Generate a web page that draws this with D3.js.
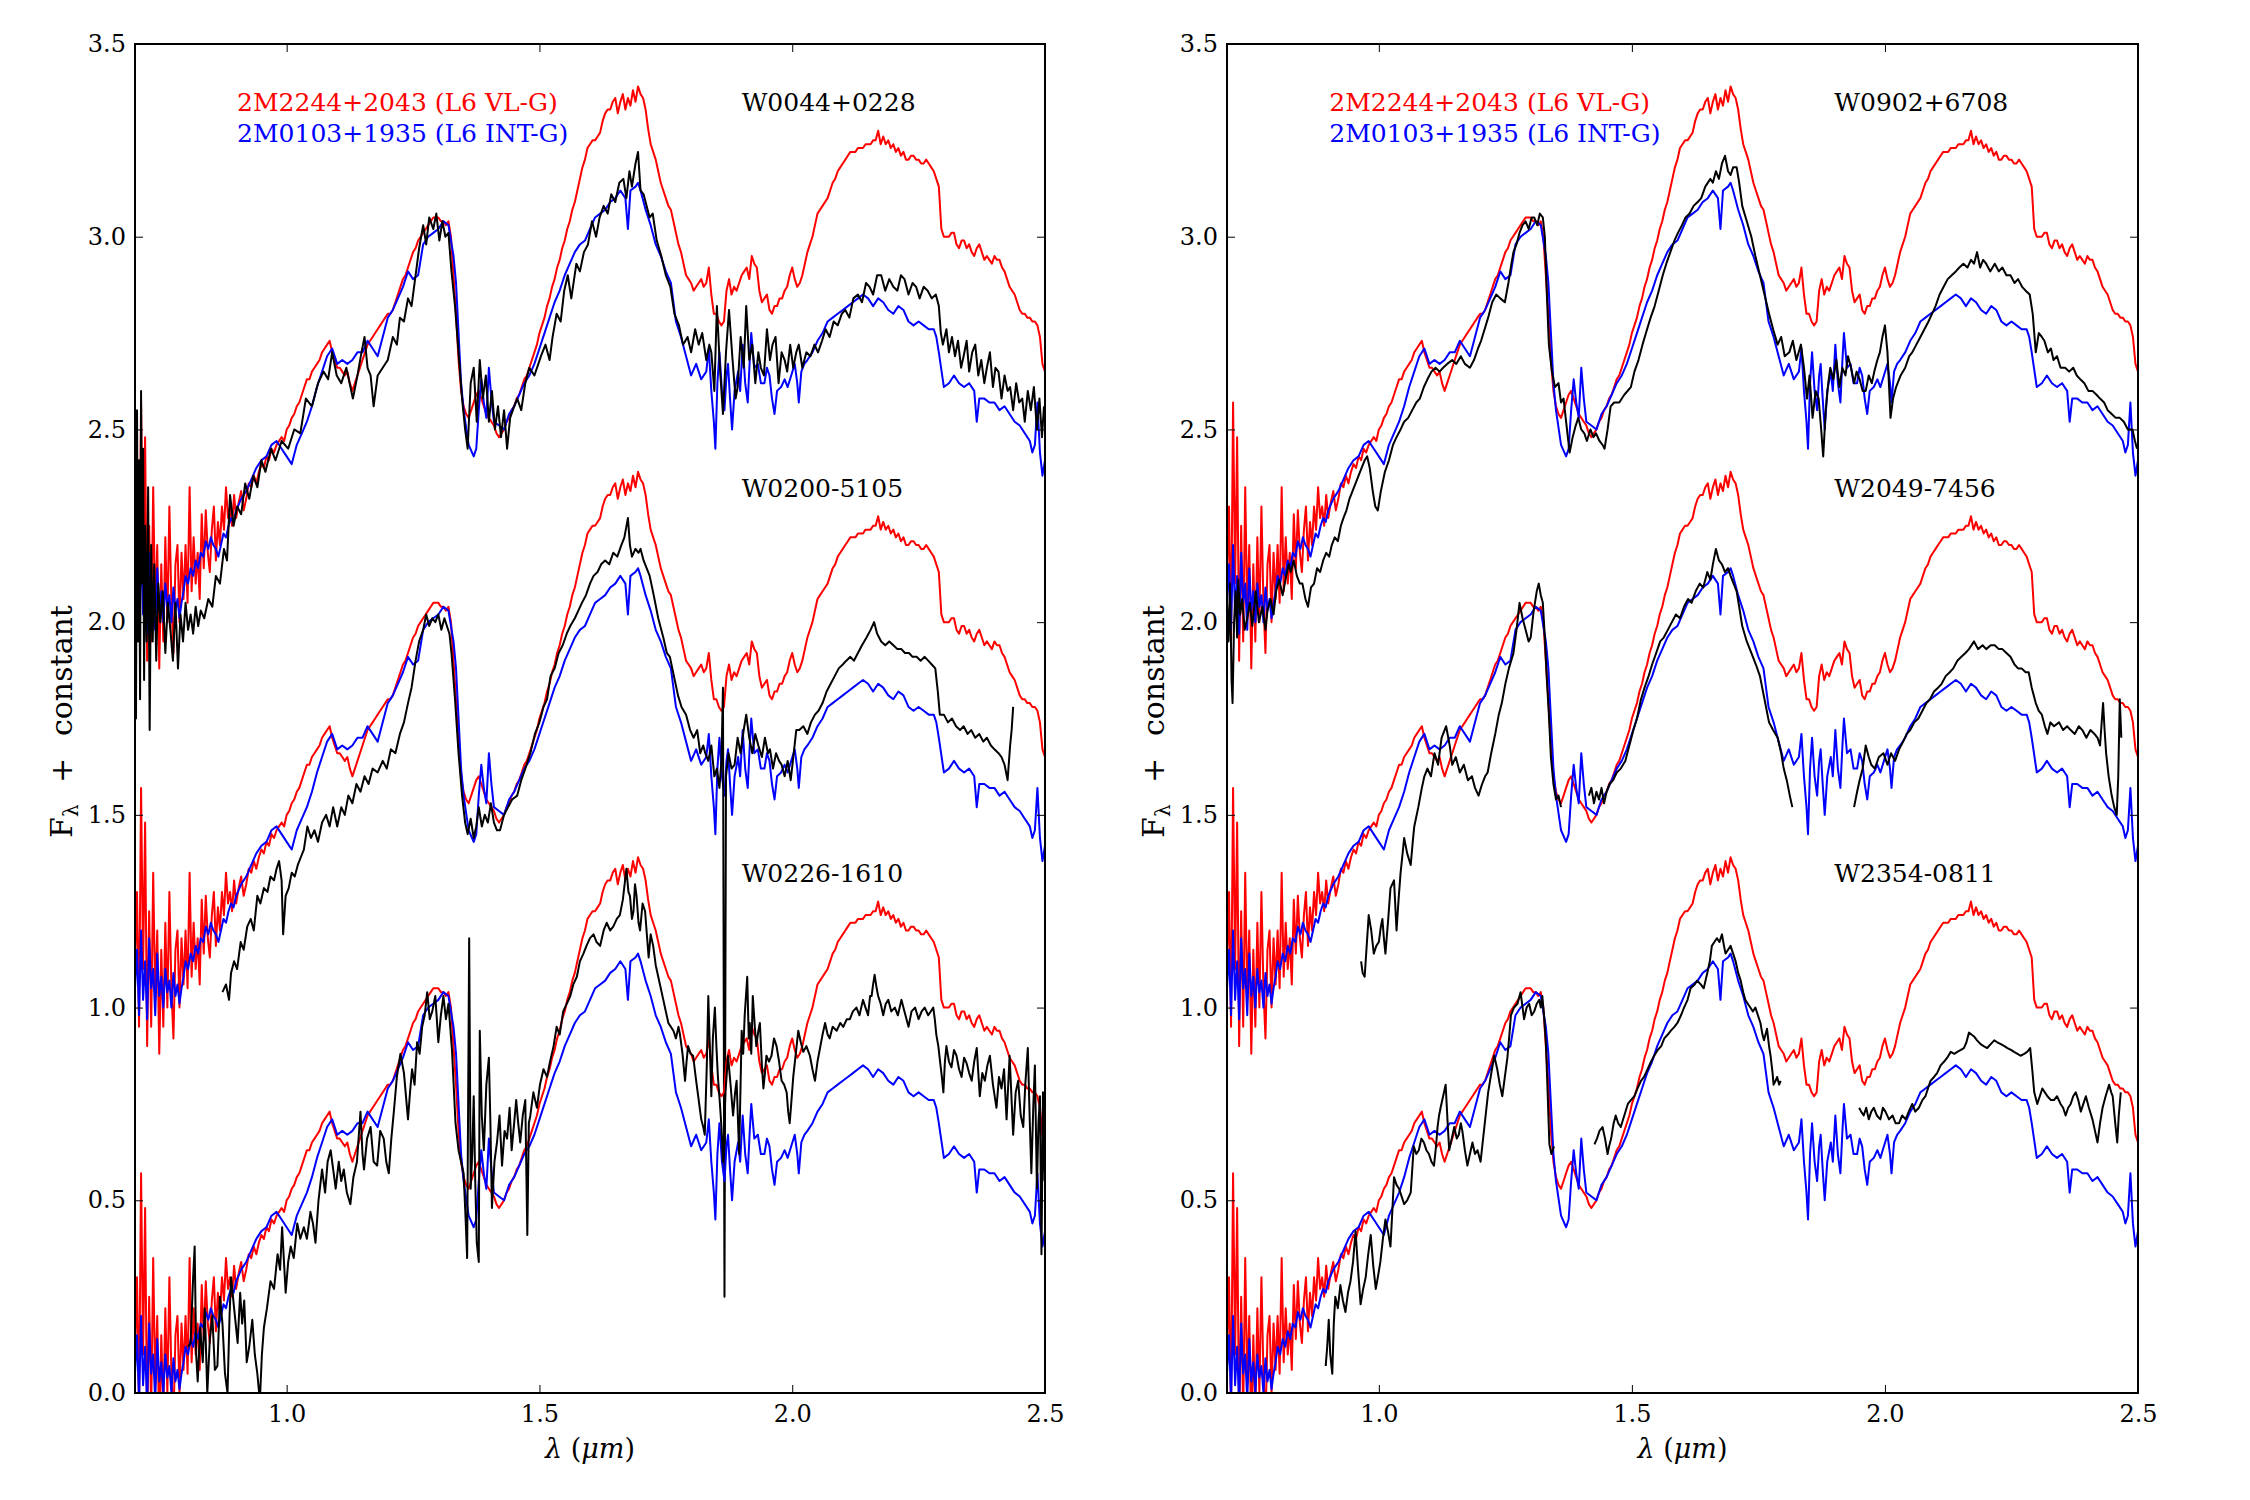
<!DOCTYPE html>
<html><head><meta charset="utf-8">
<script src="https://cdn.jsdelivr.net/npm/d3@7"></script>
<style>body{margin:0;background:#fff}</style>
</head><body><svg id="c" width="2250" height="1500"></svg>
<script>
// ---------------- DATA ----------------
const xDomain = [0.7, 2.5];
const yDomain = [0, 3.5];
const xTicks = [1.0, 1.5, 2.0, 2.5];
const yTicks = [0.0, 0.5, 1.0, 1.5, 2.0, 2.5, 3.0, 3.5];
const offsets = [2, 1, 0];
const vlgLabel = "2M2244+2043 (L6 VL-G)";
const intgLabel = "2M0103+1935 (L6 INT-G)";
const panelNames = [["W0044+0228","W0200-5105","W0226-1610"],["W0902+6708","W2049-7456","W2354-0811"]];

// template spectra (offset 0), [wavelength um, flux]
const vlg = [[0.700,0.10],[0.704,0.30],[0.708,-0.05],[0.712,0.57],[0.716,0.10],[0.720,0.48],[0.724,-0.10],[0.728,0.25],[0.732,-0.05],[0.736,0.35],[0.740,0.02],[0.744,0.20],[0.748,-0.12],[0.752,0.15],[0.756,-0.05],[0.760,0.22],[0.764,0.00],[0.768,0.30],[0.772,0.05],[0.776,-0.08],[0.780,0.15],[0.784,0.20],[0.788,0.00],[0.792,0.18],[0.796,0.06],[0.800,0.20],[0.804,0.05],[0.808,0.35],[0.812,0.08],[0.816,0.22],[0.820,0.10],[0.824,0.18],[0.828,0.06],[0.832,0.28],[0.836,0.14],[0.840,0.29],[0.844,0.18],[0.848,0.13],[0.852,0.24],[0.856,0.30],[0.860,0.16],[0.864,0.26],[0.868,0.20],[0.872,0.30],[0.876,0.24],[0.880,0.35],[0.884,0.27],[0.888,0.30],[0.892,0.25],[0.896,0.33],[0.900,0.27],[0.905,0.31],[0.910,0.34],[0.915,0.29],[0.920,0.32],[0.925,0.36],[0.930,0.35],[0.935,0.38],[0.940,0.36],[0.945,0.39],[0.950,0.41],[0.955,0.40],[0.960,0.43],[0.965,0.42],[0.970,0.45],[0.975,0.44],[0.980,0.46],[0.985,0.47],[0.990,0.48],[0.995,0.47],[1.000,0.50],[1.005,0.51],[1.010,0.53],[1.015,0.54],[1.020,0.56],[1.025,0.57],[1.030,0.59],[1.035,0.61],[1.040,0.63],[1.045,0.63],[1.050,0.65],[1.055,0.66],[1.060,0.67],[1.065,0.68],[1.070,0.70],[1.075,0.71],[1.080,0.72],[1.085,0.73],[1.090,0.70],[1.095,0.68],[1.100,0.66],[1.105,0.66],[1.110,0.65],[1.115,0.64],[1.120,0.65],[1.125,0.62],[1.130,0.60],[1.135,0.62],[1.140,0.64],[1.145,0.66],[1.150,0.68],[1.155,0.70],[1.160,0.72],[1.165,0.73],[1.170,0.74],[1.175,0.75],[1.180,0.76],[1.185,0.77],[1.190,0.78],[1.195,0.79],[1.200,0.80],[1.205,0.80],[1.210,0.81],[1.215,0.83],[1.220,0.85],[1.225,0.87],[1.230,0.89],[1.235,0.90],[1.240,0.92],[1.245,0.94],[1.250,0.96],[1.255,0.97],[1.260,0.99],[1.265,1.00],[1.270,1.01],[1.275,1.02],[1.280,1.03],[1.285,1.04],[1.290,1.05],[1.295,1.05],[1.300,1.05],[1.305,1.04],[1.310,1.04],[1.315,1.03],[1.320,1.04],[1.325,1.00],[1.330,0.90],[1.335,0.80],[1.340,0.68],[1.345,0.60],[1.350,0.56],[1.355,0.54],[1.360,0.53],[1.365,0.55],[1.370,0.57],[1.375,0.59],[1.380,0.60],[1.385,0.58],[1.390,0.56],[1.395,0.54],[1.400,0.53],[1.405,0.52],[1.410,0.51],[1.415,0.49],[1.420,0.48],[1.425,0.49],[1.430,0.50],[1.435,0.52],[1.440,0.53],[1.445,0.55],[1.450,0.56],[1.455,0.58],[1.460,0.59],[1.465,0.61],[1.470,0.63],[1.475,0.64],[1.480,0.66],[1.485,0.68],[1.490,0.70],[1.495,0.72],[1.500,0.75],[1.505,0.77],[1.510,0.79],[1.515,0.82],[1.520,0.84],[1.525,0.87],[1.530,0.89],[1.535,0.92],[1.540,0.94],[1.545,0.97],[1.550,0.99],[1.555,1.02],[1.560,1.04],[1.565,1.07],[1.570,1.09],[1.575,1.12],[1.580,1.15],[1.585,1.18],[1.590,1.20],[1.595,1.23],[1.600,1.24],[1.605,1.25],[1.610,1.25],[1.615,1.26],[1.620,1.27],[1.625,1.30],[1.630,1.32],[1.635,1.33],[1.640,1.33],[1.645,1.35],[1.650,1.36],[1.655,1.32],[1.660,1.35],[1.665,1.37],[1.670,1.33],[1.675,1.36],[1.680,1.34],[1.685,1.38],[1.690,1.35],[1.695,1.39],[1.700,1.37],[1.705,1.36],[1.710,1.33],[1.715,1.28],[1.720,1.24],[1.725,1.22],[1.730,1.20],[1.735,1.17],[1.740,1.14],[1.745,1.12],[1.750,1.10],[1.755,1.08],[1.760,1.07],[1.765,1.04],[1.770,1.01],[1.775,0.98],[1.780,0.96],[1.785,0.93],[1.790,0.90],[1.795,0.89],[1.800,0.88],[1.805,0.86],[1.810,0.87],[1.815,0.88],[1.820,0.89],[1.825,0.87],[1.830,0.88],[1.835,0.92],[1.840,0.85],[1.845,0.80],[1.850,0.80],[1.855,0.78],[1.860,0.77],[1.865,0.78],[1.870,0.86],[1.875,0.89],[1.880,0.85],[1.885,0.87],[1.890,0.86],[1.895,0.88],[1.900,0.90],[1.905,0.91],[1.910,0.92],[1.915,0.89],[1.920,0.95],[1.925,0.93],[1.930,0.92],[1.935,0.86],[1.940,0.83],[1.945,0.84],[1.950,0.85],[1.955,0.81],[1.960,0.80],[1.965,0.82],[1.970,0.82],[1.975,0.84],[1.980,0.84],[1.985,0.86],[1.990,0.87],[1.995,0.90],[2.000,0.92],[2.005,0.89],[2.010,0.87],[2.015,0.88],[2.020,0.90],[2.025,0.93],[2.030,0.96],[2.035,0.98],[2.040,1.00],[2.045,1.03],[2.050,1.06],[2.055,1.07],[2.060,1.08],[2.065,1.09],[2.070,1.10],[2.075,1.12],[2.080,1.14],[2.085,1.15],[2.090,1.17],[2.095,1.18],[2.100,1.19],[2.105,1.20],[2.110,1.21],[2.115,1.22],[2.120,1.22],[2.125,1.22],[2.130,1.23],[2.135,1.23],[2.140,1.23],[2.145,1.24],[2.150,1.24],[2.155,1.24],[2.160,1.25],[2.165,1.25],[2.170,1.275],[2.175,1.24],[2.180,1.26],[2.185,1.24],[2.190,1.25],[2.195,1.23],[2.200,1.24],[2.205,1.22],[2.210,1.23],[2.215,1.21],[2.220,1.22],[2.225,1.20],[2.230,1.20],[2.235,1.21],[2.240,1.21],[2.245,1.20],[2.250,1.20],[2.255,1.19],[2.260,1.19],[2.265,1.20],[2.270,1.19],[2.275,1.18],[2.280,1.17],[2.285,1.15],[2.290,1.13],[2.295,1.02],[2.300,1.00],[2.305,1.00],[2.310,1.00],[2.315,1.01],[2.320,1.01],[2.325,0.98],[2.330,0.97],[2.335,0.99],[2.340,0.99],[2.345,0.97],[2.350,0.98],[2.355,0.96],[2.360,0.95],[2.365,0.97],[2.370,0.98],[2.375,0.96],[2.380,0.94],[2.385,0.95],[2.390,0.94],[2.395,0.93],[2.400,0.95],[2.405,0.94],[2.410,0.94],[2.415,0.92],[2.420,0.91],[2.425,0.89],[2.430,0.87],[2.435,0.86],[2.440,0.85],[2.445,0.83],[2.450,0.81],[2.455,0.80],[2.460,0.80],[2.465,0.79],[2.470,0.79],[2.475,0.78],[2.480,0.78],[2.485,0.77],[2.490,0.74],[2.495,0.67],[2.500,0.65]];

const intg = [[0.700,0.05],[0.704,0.15],[0.708,-0.02],[0.712,0.20],[0.716,0.02],[0.720,0.12],[0.724,-0.03],[0.728,0.18],[0.732,0.05],[0.736,0.10],[0.740,-0.02],[0.744,0.14],[0.748,0.03],[0.752,0.08],[0.756,0.00],[0.760,0.10],[0.764,0.04],[0.768,0.07],[0.772,0.00],[0.776,0.09],[0.780,0.03],[0.784,0.06],[0.788,0.01],[0.792,0.05],[0.796,0.08],[0.800,0.12],[0.805,0.10],[0.810,0.14],[0.815,0.12],[0.820,0.16],[0.825,0.14],[0.830,0.18],[0.835,0.17],[0.840,0.21],[0.845,0.19],[0.850,0.22],[0.855,0.20],[0.860,0.19],[0.865,0.17],[0.870,0.20],[0.875,0.23],[0.880,0.22],[0.885,0.25],[0.890,0.27],[0.895,0.26],[0.900,0.29],[0.910,0.32],[0.920,0.34],[0.930,0.37],[0.940,0.40],[0.950,0.42],[0.960,0.43],[0.970,0.46],[0.980,0.47],[0.990,0.45],[1.000,0.43],[1.010,0.41],[1.020,0.46],[1.030,0.49],[1.040,0.52],[1.050,0.56],[1.060,0.61],[1.070,0.65],[1.080,0.69],[1.090,0.71],[1.100,0.67],[1.110,0.68],[1.120,0.67],[1.130,0.68],[1.140,0.70],[1.150,0.70],[1.160,0.73],[1.170,0.71],[1.180,0.69],[1.190,0.74],[1.200,0.79],[1.210,0.81],[1.220,0.84],[1.230,0.87],[1.240,0.91],[1.250,0.89],[1.260,0.90],[1.270,0.98],[1.280,1.00],[1.290,1.01],[1.300,1.02],[1.310,1.04],[1.320,1.03],[1.330,0.95],[1.335,0.88],[1.340,0.75],[1.345,0.62],[1.350,0.55],[1.360,0.46],[1.370,0.43],[1.375,0.45],[1.380,0.55],[1.385,0.63],[1.390,0.57],[1.395,0.53],[1.400,0.66],[1.405,0.58],[1.410,0.52],[1.420,0.51],[1.430,0.50],[1.440,0.54],[1.450,0.56],[1.460,0.59],[1.470,0.62],[1.480,0.64],[1.490,0.67],[1.500,0.71],[1.510,0.75],[1.520,0.79],[1.530,0.83],[1.540,0.86],[1.550,0.90],[1.560,0.93],[1.570,0.96],[1.580,0.98],[1.590,0.99],[1.600,1.02],[1.610,1.05],[1.620,1.06],[1.630,1.07],[1.640,1.09],[1.650,1.10],[1.660,1.12],[1.670,1.10],[1.675,1.02],[1.680,1.12],[1.690,1.13],[1.695,1.14],[1.700,1.12],[1.710,1.07],[1.720,1.03],[1.730,0.98],[1.740,0.95],[1.750,0.91],[1.760,0.88],[1.770,0.78],[1.780,0.74],[1.790,0.69],[1.800,0.64],[1.810,0.67],[1.820,0.63],[1.830,0.65],[1.835,0.71],[1.840,0.60],[1.845,0.52],[1.848,0.45],[1.852,0.62],[1.856,0.70],[1.861,0.60],[1.866,0.55],[1.870,0.64],[1.873,0.67],[1.877,0.58],[1.881,0.50],[1.886,0.60],[1.893,0.65],[1.897,0.60],[1.902,0.72],[1.907,0.62],[1.912,0.57],[1.916,0.68],[1.919,0.75],[1.925,0.66],[1.932,0.67],[1.938,0.62],[1.945,0.62],[1.950,0.66],[1.955,0.64],[1.960,0.58],[1.965,0.54],[1.970,0.60],[1.978,0.61],[1.985,0.63],[1.991,0.61],[1.998,0.64],[2.005,0.67],[2.010,0.62],[2.013,0.57],[2.018,0.65],[2.024,0.67],[2.030,0.68],[2.040,0.70],[2.050,0.73],[2.060,0.75],[2.070,0.78],[2.080,0.79],[2.090,0.80],[2.100,0.81],[2.110,0.82],[2.120,0.83],[2.130,0.84],[2.140,0.85],[2.150,0.84],[2.160,0.82],[2.170,0.84],[2.180,0.83],[2.190,0.81],[2.200,0.80],[2.210,0.82],[2.220,0.81],[2.230,0.78],[2.240,0.77],[2.250,0.78],[2.260,0.77],[2.270,0.76],[2.280,0.76],[2.285,0.74],[2.290,0.70],[2.300,0.61],[2.310,0.62],[2.320,0.64],[2.330,0.62],[2.340,0.61],[2.350,0.62],[2.360,0.60],[2.365,0.52],[2.370,0.58],[2.380,0.58],[2.390,0.57],[2.400,0.57],[2.410,0.55],[2.420,0.56],[2.430,0.54],[2.440,0.52],[2.450,0.51],[2.460,0.49],[2.470,0.47],[2.475,0.44],[2.480,0.46],[2.485,0.57],[2.490,0.44],[2.495,0.38],[2.500,0.42]];

// target spectra (already shifted by their constant), null = gap
const w0044 = [[0.700,2.30],[0.702,1.75],[0.704,2.55],[0.706,1.95],[0.708,2.42],[0.710,1.80],[0.712,2.60],[0.714,2.10],[0.716,2.45],[0.718,1.85],[0.720,2.25],[0.723,1.95],[0.726,2.35],[0.729,1.72],[0.732,2.20],[0.735,1.95],[0.738,2.15],[0.742,1.90],[0.746,2.10],[0.750,2.00],[0.755,2.08],[0.760,1.92],[0.765,2.05],[0.770,1.98],[0.775,1.90],[0.780,2.05],[0.785,1.88],[0.790,2.02],[0.795,1.95],[0.800,2.05],[0.805,1.98],[0.810,2.02],[0.815,1.97],[0.820,2.04],[0.825,1.99],[0.830,2.03],[0.837,2.01],[0.845,2.06],[0.853,2.04],[0.860,2.12],[0.868,2.10],[0.876,2.19],[0.882,2.16],[0.888,2.33],[0.895,2.25],[0.902,2.30],[0.910,2.28],[0.918,2.36],[0.926,2.32],[0.934,2.38],[0.942,2.35],[0.950,2.42],[0.958,2.39],[0.969,2.45],[0.978,2.42],[0.990,2.47],[1.003,2.45],[1.015,2.50],[1.027,2.49],[1.038,2.58],[1.050,2.56],[1.062,2.62],[1.073,2.65],[1.082,2.63],[1.090,2.70],[1.099,2.64],[1.108,2.62],[1.118,2.66],[1.131,2.58],[1.140,2.64],[1.148,2.70],[1.154,2.74],[1.160,2.66],[1.166,2.64],[1.172,2.56],[1.180,2.64],[1.190,2.66],[1.200,2.68],[1.210,2.74],[1.218,2.72],[1.224,2.79],[1.232,2.78],[1.240,2.84],[1.247,2.82],[1.255,2.90],[1.262,2.97],[1.270,3.03],[1.276,2.98],[1.282,3.05],[1.290,3.02],[1.296,3.06],[1.302,2.99],[1.308,3.04],[1.314,3.00],[1.320,3.01],[1.326,2.91],[1.333,2.82],[1.340,2.70],[1.347,2.58],[1.353,2.50],[1.358,2.45],[1.364,2.62],[1.370,2.66],[1.376,2.52],[1.382,2.68],[1.388,2.58],[1.394,2.64],[1.400,2.52],[1.406,2.60],[1.412,2.50],[1.418,2.56],[1.424,2.48],[1.430,2.55],[1.436,2.45],[1.442,2.53],[1.450,2.56],[1.456,2.58],[1.464,2.55],[1.472,2.62],[1.480,2.66],[1.490,2.64],[1.503,2.69],[1.512,2.72],[1.520,2.68],[1.526,2.74],[1.534,2.80],[1.542,2.78],[1.549,2.86],[1.556,2.90],[1.563,2.84],[1.573,2.93],[1.580,2.91],[1.588,2.96],[1.596,2.98],[1.604,3.04],[1.612,3.00],[1.619,3.05],[1.627,3.08],[1.635,3.06],[1.642,3.11],[1.650,3.09],[1.658,3.14],[1.666,3.15],[1.672,3.10],[1.678,3.17],[1.683,3.13],[1.690,3.19],[1.695,3.22],[1.700,3.12],[1.706,3.11],[1.712,3.08],[1.718,3.05],[1.724,3.06],[1.732,2.99],[1.741,2.95],[1.750,2.90],[1.759,2.87],[1.767,2.80],[1.776,2.77],[1.784,2.72],[1.793,2.74],[1.800,2.70],[1.808,2.76],[1.815,2.72],[1.822,2.75],[1.830,2.68],[1.836,2.72],[1.840,2.70],[1.846,2.60],[1.851,2.82],[1.857,2.66],[1.863,2.54],[1.869,2.70],[1.875,2.81],[1.882,2.68],[1.888,2.58],[1.892,2.61],[1.898,2.74],[1.904,2.66],[1.909,2.82],[1.915,2.68],[1.921,2.72],[1.927,2.62],[1.933,2.70],[1.938,2.66],[1.944,2.64],[1.950,2.76],[1.956,2.68],[1.961,2.72],[1.967,2.74],[1.973,2.62],[1.979,2.70],[1.985,2.68],[1.990,2.65],[1.996,2.72],[2.002,2.66],[2.008,2.70],[2.013,2.72],[2.020,2.66],[2.028,2.70],[2.036,2.69],[2.044,2.72],[2.051,2.70],[2.059,2.73],[2.066,2.76],[2.074,2.74],[2.082,2.78],[2.090,2.77],[2.098,2.80],[2.105,2.81],[2.113,2.79],[2.121,2.84],[2.130,2.85],[2.138,2.83],[2.146,2.88],[2.153,2.87],[2.160,2.85],[2.168,2.90],[2.176,2.90],[2.184,2.86],[2.192,2.89],[2.200,2.87],[2.208,2.86],[2.215,2.90],[2.222,2.89],[2.230,2.85],[2.238,2.88],[2.245,2.87],[2.252,2.84],[2.260,2.87],[2.268,2.86],[2.276,2.84],[2.284,2.85],[2.290,2.82],[2.294,2.75],[2.298,2.72],[2.305,2.76],[2.310,2.70],[2.316,2.74],[2.322,2.69],[2.328,2.73],[2.334,2.66],[2.339,2.69],[2.345,2.73],[2.350,2.65],[2.356,2.70],[2.362,2.72],[2.368,2.64],[2.374,2.68],[2.380,2.62],[2.385,2.66],[2.391,2.70],[2.397,2.61],[2.402,2.66],[2.408,2.65],[2.414,2.58],[2.420,2.64],[2.426,2.60],[2.431,2.61],[2.437,2.55],[2.443,2.62],[2.449,2.57],[2.455,2.58],[2.460,2.52],[2.466,2.60],[2.472,2.55],[2.478,2.61],[2.484,2.50],[2.489,2.58],[2.494,2.48],[2.498,2.56]];

const w0200 = [[0.873,1.04],[0.880,1.06],[0.886,1.02],[0.890,1.09],[0.896,1.12],[0.902,1.10],[0.909,1.17],[0.915,1.15],[0.922,1.21],[0.929,1.23],[0.935,1.20],[0.942,1.29],[0.948,1.27],[0.955,1.31],[0.962,1.30],[0.968,1.34],[0.975,1.33],[0.980,1.36],[0.985,1.38],[0.990,1.33],[0.993,1.19],[0.998,1.29],[1.004,1.31],[1.010,1.35],[1.016,1.34],[1.022,1.37],[1.028,1.39],[1.034,1.41],[1.041,1.47],[1.048,1.44],[1.055,1.46],[1.062,1.43],[1.070,1.48],[1.078,1.50],[1.085,1.47],[1.092,1.52],[1.100,1.47],[1.108,1.52],[1.115,1.50],[1.122,1.55],[1.130,1.53],[1.138,1.58],[1.146,1.56],[1.154,1.60],[1.162,1.58],[1.170,1.62],[1.180,1.61],[1.190,1.64],[1.198,1.62],[1.206,1.67],[1.215,1.66],[1.224,1.71],[1.232,1.74],[1.240,1.79],[1.247,1.83],[1.255,1.90],[1.262,1.95],[1.270,1.98],[1.276,2.02],[1.282,1.99],[1.288,2.01],[1.294,2.00],[1.300,2.02],[1.306,1.98],[1.312,2.01],[1.317,1.99],[1.322,1.97],[1.326,1.92],[1.333,1.80],[1.340,1.66],[1.347,1.55],[1.353,1.48],[1.358,1.45],[1.364,1.49],[1.370,1.44],[1.375,1.47],[1.380,1.52],[1.386,1.47],[1.392,1.50],[1.398,1.48],[1.404,1.53],[1.410,1.48],[1.416,1.46],[1.422,1.46],[1.430,1.50],[1.438,1.52],[1.446,1.54],[1.456,1.55],[1.464,1.59],[1.472,1.62],[1.482,1.66],[1.491,1.71],[1.500,1.74],[1.508,1.78],[1.515,1.80],[1.522,1.86],[1.530,1.88],[1.538,1.92],[1.546,1.94],[1.554,1.97],[1.561,1.99],[1.570,2.01],[1.577,2.03],[1.584,2.05],[1.592,2.07],[1.600,2.10],[1.607,2.12],[1.615,2.13],[1.622,2.15],[1.630,2.16],[1.638,2.15],[1.646,2.18],[1.654,2.17],[1.662,2.20],[1.668,2.22],[1.675,2.27],[1.679,2.20],[1.683,2.17],[1.690,2.19],[1.696,2.18],[1.700,2.19],[1.706,2.16],[1.712,2.14],[1.718,2.12],[1.726,2.07],[1.735,2.01],[1.745,1.96],[1.752,1.92],[1.758,1.91],[1.766,1.86],[1.774,1.81],[1.781,1.78],[1.790,1.76],[1.798,1.72],[1.805,1.70],[1.812,1.72],[1.818,1.66],[1.824,1.68],[1.828,1.66],[1.834,1.64],[1.840,1.68],[1.846,1.60],[1.851,1.62],[1.856,1.57],[1.860,1.64],[1.863,1.83],[1.866,0.25],[1.869,1.60],[1.874,1.66],[1.880,1.62],[1.886,1.63],[1.892,1.70],[1.898,1.66],[1.904,1.72],[1.909,1.76],[1.915,1.70],[1.921,1.66],[1.927,1.71],[1.933,1.68],[1.940,1.65],[1.946,1.70],[1.952,1.66],[1.956,1.67],[1.962,1.62],[1.968,1.66],[1.974,1.64],[1.979,1.63],[1.985,1.60],[1.991,1.64],[1.997,1.59],[2.003,1.66],[2.008,1.72],[2.014,1.72],[2.022,1.73],[2.030,1.71],[2.037,1.74],[2.045,1.76],[2.052,1.77],[2.060,1.79],[2.068,1.82],[2.076,1.84],[2.084,1.86],[2.092,1.88],[2.100,1.89],[2.107,1.90],[2.115,1.91],[2.122,1.90],[2.130,1.92],[2.138,1.94],[2.147,1.96],[2.155,1.98],[2.162,2.00],[2.168,1.97],[2.176,1.95],[2.184,1.94],[2.192,1.95],[2.200,1.94],[2.208,1.93],[2.216,1.93],[2.223,1.92],[2.231,1.92],[2.238,1.91],[2.246,1.91],[2.254,1.90],[2.262,1.91],[2.269,1.90],[2.276,1.89],[2.283,1.88],[2.288,1.82],[2.292,1.76],[2.300,1.76],[2.308,1.74],[2.316,1.75],[2.324,1.73],[2.332,1.72],[2.339,1.73],[2.347,1.71],[2.354,1.72],[2.362,1.70],[2.370,1.71],[2.378,1.69],[2.385,1.70],[2.393,1.68],[2.400,1.67],[2.408,1.66],[2.414,1.65],[2.420,1.63],[2.426,1.59],[2.431,1.68],[2.434,1.72],[2.437,1.78]];

const w0226 = [[0.805,0.12],[0.810,0.13],[0.815,0.30],[0.818,0.38],[0.821,0.10],[0.824,0.03],[0.829,0.17],[0.834,0.08],[0.838,0.22],[0.843,0.00],[0.848,0.14],[0.853,0.20],[0.858,0.06],[0.863,0.07],[0.868,0.25],[0.873,0.18],[0.878,0.05],[0.883,0.00],[0.887,0.20],[0.890,0.30],[0.896,0.22],[0.903,0.13],[0.908,0.26],[0.912,0.18],[0.916,0.24],[0.921,0.08],[0.926,0.12],[0.932,0.19],[0.937,0.10],[0.942,0.05],[0.947,-0.02],[0.951,0.10],[0.955,0.17],[0.961,0.22],[0.968,0.29],[0.975,0.27],[0.982,0.36],[0.987,0.32],[0.991,0.43],[0.998,0.26],[1.003,0.34],[1.008,0.38],[1.014,0.35],[1.021,0.44],[1.027,0.40],[1.034,0.43],[1.040,0.40],[1.047,0.47],[1.052,0.44],[1.057,0.39],[1.063,0.50],[1.070,0.58],[1.076,0.52],[1.081,0.60],[1.087,0.63],[1.092,0.58],[1.097,0.53],[1.103,0.60],[1.108,0.55],[1.113,0.58],[1.119,0.52],[1.126,0.49],[1.132,0.56],[1.139,0.60],[1.146,0.73],[1.150,0.62],[1.153,0.58],[1.159,0.66],[1.166,0.69],[1.172,0.60],[1.179,0.59],[1.185,0.68],[1.192,0.66],[1.197,0.60],[1.202,0.57],[1.207,0.66],[1.212,0.73],[1.218,0.82],[1.225,0.88],[1.232,0.83],[1.240,0.71],[1.244,0.78],[1.248,0.84],[1.253,0.80],[1.258,0.91],[1.263,0.88],[1.268,0.95],[1.273,0.98],[1.278,1.04],[1.283,0.97],[1.288,0.99],[1.294,1.03],[1.300,0.91],[1.305,0.98],[1.310,1.03],[1.315,0.97],[1.320,1.01],[1.327,0.89],[1.334,0.70],[1.340,0.63],[1.345,0.60],[1.350,0.57],[1.354,0.45],[1.357,0.35],[1.361,1.18],[1.364,0.53],[1.367,0.62],[1.370,0.77],[1.373,0.55],[1.376,0.39],[1.380,0.34],[1.382,0.94],[1.386,0.72],[1.390,0.63],[1.395,0.80],[1.400,0.87],[1.403,0.70],[1.406,0.48],[1.411,0.60],[1.416,0.65],[1.421,0.72],[1.426,0.59],[1.431,0.68],[1.436,0.66],[1.441,0.74],[1.445,0.63],[1.450,0.70],[1.454,0.76],[1.458,0.70],[1.462,0.65],[1.467,0.72],[1.472,0.76],[1.476,0.41],[1.479,0.70],[1.482,0.72],[1.488,0.78],[1.495,0.74],[1.501,0.80],[1.508,0.84],[1.515,0.82],[1.521,0.86],[1.528,0.90],[1.534,0.95],[1.540,0.93],[1.547,0.99],[1.554,1.01],[1.561,1.03],[1.567,1.06],[1.574,1.08],[1.580,1.12],[1.587,1.14],[1.593,1.16],[1.600,1.18],[1.607,1.19],[1.613,1.17],[1.620,1.16],[1.627,1.20],[1.633,1.22],[1.640,1.20],[1.646,1.21],[1.653,1.23],[1.659,1.24],[1.665,1.28],[1.672,1.36],[1.676,1.30],[1.679,1.29],[1.683,1.23],[1.686,1.25],[1.689,1.32],[1.692,1.29],[1.696,1.22],[1.699,1.20],[1.704,1.27],[1.709,1.25],[1.713,1.18],[1.716,1.13],[1.720,1.19],[1.725,1.16],[1.730,1.11],[1.735,1.08],[1.740,1.05],[1.745,1.02],[1.750,0.99],[1.755,0.96],[1.760,0.95],[1.765,0.94],[1.770,0.92],[1.775,0.95],[1.778,0.93],[1.783,0.88],[1.788,0.81],[1.791,0.86],[1.794,0.90],[1.799,0.88],[1.804,0.875],[1.809,0.82],[1.814,0.77],[1.817,0.74],[1.820,0.71],[1.824,0.69],[1.827,0.67],[1.831,0.85],[1.834,1.03],[1.837,0.90],[1.840,0.77],[1.843,0.92],[1.847,1.00],[1.850,0.90],[1.853,0.82],[1.857,0.75],[1.860,0.69],[1.863,0.60],[1.868,0.78],[1.873,0.875],[1.878,0.80],[1.883,0.72],[1.887,0.78],[1.890,0.81],[1.895,0.62],[1.900,0.94],[1.903,0.88],[1.906,0.98],[1.911,1.08],[1.914,0.92],[1.916,0.96],[1.919,0.88],[1.922,1.03],[1.926,0.95],[1.929,0.90],[1.933,0.94],[1.936,0.96],[1.940,0.85],[1.943,0.79],[1.946,0.83],[1.949,0.875],[1.954,0.86],[1.959,0.875],[1.964,0.92],[1.969,0.90],[1.974,0.86],[1.979,0.81],[1.984,0.80],[1.989,0.78],[1.992,0.73],[1.995,0.70],[1.998,0.75],[2.002,0.82],[2.007,0.88],[2.012,0.94],[2.017,0.91],[2.022,0.885],[2.028,0.90],[2.035,0.875],[2.040,0.84],[2.045,0.81],[2.050,0.86],[2.055,0.895],[2.060,0.93],[2.065,0.96],[2.070,0.93],[2.074,0.92],[2.080,0.95],[2.088,0.94],[2.095,0.96],[2.101,0.95],[2.108,0.97],[2.114,0.97],[2.120,0.99],[2.127,1.00],[2.133,0.98],[2.140,1.02],[2.145,1.00],[2.150,0.98],[2.154,1.03],[2.157,1.03],[2.160,1.06],[2.163,1.085],[2.167,1.05],[2.170,1.03],[2.175,1.01],[2.180,0.98],[2.185,1.01],[2.190,1.02],[2.196,0.99],[2.203,1.00],[2.209,0.98],[2.216,1.02],[2.222,0.99],[2.230,0.95],[2.236,0.99],[2.243,1.00],[2.250,0.97],[2.256,0.99],[2.262,1.00],[2.269,0.98],[2.274,0.99],[2.279,1.00],[2.282,0.97],[2.285,0.93],[2.289,0.90],[2.292,0.865],[2.296,0.82],[2.299,0.78],[2.302,0.86],[2.305,0.90],[2.310,0.86],[2.315,0.845],[2.320,0.89],[2.325,0.875],[2.330,0.84],[2.335,0.82],[2.340,0.87],[2.345,0.855],[2.350,0.83],[2.355,0.81],[2.360,0.86],[2.365,0.895],[2.371,0.77],[2.376,0.83],[2.381,0.81],[2.386,0.85],[2.391,0.875],[2.397,0.80],[2.404,0.74],[2.409,0.82],[2.414,0.79],[2.419,0.84],[2.424,0.71],[2.430,0.875],[2.437,0.67],[2.442,0.78],[2.447,0.81],[2.452,0.72],[2.457,0.69],[2.461,0.80],[2.466,0.895],[2.470,0.70],[2.473,0.57],[2.477,0.75],[2.480,0.85],[2.484,0.53],[2.487,0.70],[2.490,0.77],[2.493,0.36],[2.496,0.78],[2.499,0.55]];

const w0902 = [[0.700,2.05],[0.703,1.95],[0.706,2.10],[0.709,1.85],[0.711,1.79],[0.714,2.00],[0.717,2.08],[0.720,1.96],[0.722,2.11],[0.726,2.02],[0.730,2.06],[0.735,1.98],[0.740,2.01],[0.745,2.05],[0.750,1.99],[0.757,2.08],[0.763,2.00],[0.770,2.04],[0.776,1.98],[0.780,2.03],[0.786,2.06],[0.792,2.02],[0.797,2.08],[0.803,2.11],[0.810,2.07],[0.817,2.12],[0.822,2.15],[0.826,2.13],[0.832,2.16],[0.838,2.12],[0.844,2.10],[0.849,2.10],[0.855,2.06],[0.860,2.04],[0.866,2.09],[0.872,2.10],[0.878,2.14],[0.884,2.13],[0.890,2.16],[0.896,2.18],[0.902,2.17],[0.907,2.20],[0.913,2.22],[0.919,2.21],[0.925,2.25],[0.930,2.27],[0.936,2.29],[0.942,2.32],[0.948,2.34],[0.954,2.36],[0.960,2.38],[0.966,2.40],[0.972,2.42],[0.977,2.43],[0.982,2.40],[0.988,2.34],[0.993,2.30],[0.998,2.29],[1.004,2.34],[1.012,2.39],[1.020,2.42],[1.028,2.46],[1.035,2.48],[1.043,2.50],[1.050,2.52],[1.058,2.53],[1.066,2.55],[1.074,2.57],[1.081,2.58],[1.089,2.61],[1.096,2.63],[1.104,2.65],[1.112,2.66],[1.120,2.65],[1.127,2.66],[1.135,2.67],[1.145,2.68],[1.153,2.67],[1.162,2.69],[1.170,2.67],[1.180,2.66],[1.188,2.68],[1.196,2.71],[1.202,2.73],[1.209,2.76],[1.216,2.79],[1.224,2.83],[1.232,2.85],[1.240,2.84],[1.249,2.83],[1.256,2.88],[1.262,2.93],[1.266,2.96],[1.272,2.98],[1.278,3.01],[1.284,3.03],[1.290,3.04],[1.296,3.02],[1.302,3.05],[1.307,3.05],[1.313,3.03],[1.318,3.06],[1.324,3.05],[1.328,3.00],[1.332,2.85],[1.336,2.72],[1.342,2.65],[1.348,2.61],[1.355,2.62],[1.360,2.57],[1.365,2.58],[1.370,2.52],[1.377,2.44],[1.383,2.48],[1.389,2.51],[1.394,2.53],[1.400,2.50],[1.406,2.49],[1.411,2.47],[1.418,2.50],[1.424,2.48],[1.429,2.49],[1.436,2.47],[1.442,2.46],[1.446,2.45],[1.452,2.50],[1.458,2.56],[1.465,2.57],[1.475,2.57],[1.485,2.59],[1.498,2.61],[1.505,2.65],[1.513,2.68],[1.521,2.72],[1.530,2.76],[1.537,2.79],[1.545,2.82],[1.553,2.86],[1.561,2.90],[1.568,2.93],[1.576,2.96],[1.584,2.99],[1.591,3.01],[1.599,3.03],[1.606,3.05],[1.614,3.06],[1.622,3.08],[1.630,3.09],[1.637,3.10],[1.645,3.13],[1.655,3.15],[1.660,3.14],[1.666,3.17],[1.672,3.15],[1.678,3.19],[1.684,3.21],[1.690,3.17],[1.695,3.16],[1.700,3.18],[1.707,3.18],[1.712,3.14],[1.718,3.08],[1.727,3.04],[1.736,3.00],[1.744,2.95],[1.753,2.90],[1.762,2.85],[1.771,2.80],[1.779,2.76],[1.788,2.72],[1.795,2.74],[1.802,2.69],[1.811,2.70],[1.818,2.73],[1.825,2.68],[1.834,2.72],[1.840,2.66],[1.846,2.58],[1.851,2.64],[1.857,2.53],[1.863,2.60],[1.869,2.58],[1.874,2.50],[1.878,2.43],[1.883,2.55],[1.888,2.62],[1.892,2.66],[1.898,2.63],[1.904,2.68],[1.910,2.61],[1.916,2.66],[1.922,2.64],[1.927,2.69],[1.933,2.66],[1.939,2.62],[1.944,2.65],[1.950,2.63],[1.956,2.60],[1.962,2.60],[1.968,2.64],[1.974,2.62],[1.979,2.65],[1.985,2.68],[1.990,2.70],[1.995,2.74],[2.000,2.77],[2.005,2.70],[2.011,2.53],[2.016,2.58],[2.022,2.61],[2.031,2.64],[2.040,2.66],[2.048,2.69],[2.054,2.70],[2.062,2.72],[2.070,2.74],[2.078,2.76],[2.086,2.78],[2.093,2.80],[2.100,2.82],[2.108,2.85],[2.116,2.87],[2.124,2.89],[2.132,2.90],[2.140,2.91],[2.147,2.92],[2.155,2.93],[2.163,2.92],[2.170,2.94],[2.176,2.93],[2.182,2.96],[2.188,2.92],[2.194,2.94],[2.200,2.93],[2.208,2.91],[2.217,2.93],[2.225,2.91],[2.232,2.92],[2.240,2.90],[2.248,2.90],[2.256,2.88],[2.263,2.89],[2.271,2.87],[2.278,2.86],[2.286,2.85],[2.292,2.80],[2.298,2.70],[2.304,2.75],[2.310,2.74],[2.315,2.73],[2.322,2.70],[2.328,2.71],[2.333,2.68],[2.340,2.69],[2.347,2.66],[2.356,2.66],[2.364,2.65],[2.372,2.66],[2.379,2.64],[2.386,2.63],[2.394,2.62],[2.402,2.60],[2.410,2.60],[2.418,2.59],[2.425,2.58],[2.433,2.57],[2.440,2.55],[2.448,2.54],[2.456,2.53],[2.464,2.53],[2.472,2.52],[2.480,2.50],[2.489,2.50],[2.494,2.47],[2.498,2.45]];

const w2049 = [[0.965,1.12],[0.968,1.09],[0.972,1.08],[0.976,1.16],[0.980,1.24],[0.985,1.20],[0.990,1.14],[0.995,1.16],[1.000,1.17],[1.004,1.21],[1.007,1.23],[1.010,1.18],[1.013,1.14],[1.018,1.22],[1.023,1.31],[1.030,1.33],[1.035,1.20],[1.039,1.28],[1.043,1.35],[1.047,1.40],[1.050,1.44],[1.056,1.40],[1.063,1.37],[1.067,1.43],[1.070,1.47],[1.078,1.52],[1.085,1.57],[1.090,1.60],[1.096,1.62],[1.103,1.60],[1.110,1.66],[1.117,1.63],[1.124,1.70],[1.133,1.73],[1.140,1.68],[1.145,1.63],[1.152,1.65],[1.160,1.61],[1.168,1.63],[1.176,1.59],[1.184,1.60],[1.190,1.57],[1.197,1.55],[1.204,1.58],[1.210,1.60],[1.215,1.61],[1.222,1.66],[1.230,1.71],[1.237,1.76],[1.243,1.79],[1.250,1.84],[1.257,1.88],[1.266,1.92],[1.272,1.98],[1.278,2.05],[1.284,2.01],[1.290,1.98],[1.296,1.95],[1.300,1.96],[1.306,2.03],[1.312,2.08],[1.316,2.10],[1.320,2.07],[1.324,2.05],[1.328,1.96],[1.332,1.85],[1.336,1.76],[1.340,1.65],[1.345,1.58],[1.350,1.54],[1.355,1.55],[1.360,1.52],[1.362,null],[1.415,1.55],[1.420,1.57],[1.425,1.53],[1.430,1.56],[1.435,1.54],[1.440,1.57],[1.445,1.53],[1.450,1.56],[1.456,1.58],[1.463,1.59],[1.470,1.61],[1.478,1.62],[1.487,1.64],[1.495,1.68],[1.503,1.72],[1.510,1.75],[1.518,1.80],[1.525,1.83],[1.533,1.86],[1.540,1.89],[1.548,1.92],[1.556,1.95],[1.563,1.96],[1.571,1.98],[1.579,2.00],[1.587,2.02],[1.595,2.01],[1.603,2.04],[1.611,2.06],[1.618,2.05],[1.626,2.08],[1.634,2.10],[1.641,2.09],[1.649,2.13],[1.655,2.11],[1.660,2.15],[1.666,2.19],[1.672,2.16],[1.678,2.15],[1.684,2.13],[1.690,2.14],[1.695,2.12],[1.701,2.10],[1.707,2.08],[1.712,2.04],[1.718,1.99],[1.727,1.95],[1.736,1.92],[1.745,1.89],[1.753,1.86],[1.762,1.80],[1.771,1.74],[1.779,1.72],[1.788,1.70],[1.795,1.66],[1.800,1.62],[1.806,1.59],[1.812,1.55],[1.817,1.52],[1.820,null],[1.939,1.52],[1.945,1.56],[1.950,1.59],[1.956,1.62],[1.962,1.68],[1.968,1.65],[1.973,1.63],[1.980,1.62],[1.988,1.65],[1.997,1.66],[2.005,1.63],[2.012,1.66],[2.020,1.64],[2.028,1.67],[2.036,1.69],[2.043,1.71],[2.050,1.72],[2.058,1.74],[2.066,1.75],[2.074,1.77],[2.082,1.79],[2.089,1.80],[2.097,1.82],[2.105,1.83],[2.112,1.84],[2.120,1.86],[2.128,1.87],[2.135,1.88],[2.143,1.90],[2.151,1.91],[2.159,1.92],[2.166,1.93],[2.176,1.95],[2.184,1.93],[2.193,1.94],[2.200,1.93],[2.209,1.94],[2.217,1.94],[2.225,1.93],[2.232,1.93],[2.240,1.92],[2.248,1.91],[2.256,1.89],[2.263,1.88],[2.270,1.88],[2.278,1.87],[2.284,1.87],[2.290,1.83],[2.298,1.79],[2.304,1.77],[2.310,1.76],[2.316,1.73],[2.321,1.71],[2.327,1.74],[2.334,1.73],[2.344,1.74],[2.352,1.72],[2.360,1.73],[2.367,1.72],[2.375,1.71],[2.383,1.73],[2.390,1.72],[2.398,1.70],[2.406,1.72],[2.414,1.71],[2.420,1.70],[2.425,1.68],[2.431,1.79],[2.434,1.72],[2.437,1.66],[2.442,1.60],[2.448,1.55],[2.453,1.52],[2.458,1.50],[2.461,1.60],[2.464,1.80],[2.467,1.70]];

const w2354 = [[0.895,0.07],[0.898,0.12],[0.901,0.19],[0.904,0.10],[0.908,0.05],[0.911,0.18],[0.914,0.25],[0.919,0.22],[0.924,0.28],[0.929,0.24],[0.934,0.21],[0.939,0.26],[0.944,0.29],[0.949,0.34],[0.954,0.42],[0.959,0.32],[0.964,0.23],[0.969,0.27],[0.974,0.30],[0.979,0.36],[0.984,0.41],[0.989,0.33],[0.994,0.27],[0.998,0.30],[1.003,0.34],[1.008,0.40],[1.013,0.45],[1.018,0.42],[1.023,0.38],[1.027,0.48],[1.030,0.56],[1.035,0.54],[1.040,0.53],[1.045,0.51],[1.050,0.49],[1.056,0.50],[1.063,0.52],[1.066,0.58],[1.069,0.64],[1.074,0.62],[1.079,0.63],[1.084,0.66],[1.089,0.65],[1.094,0.63],[1.099,0.62],[1.104,0.60],[1.109,0.59],[1.113,0.64],[1.116,0.69],[1.119,0.72],[1.122,0.74],[1.127,0.77],[1.132,0.80],[1.136,0.70],[1.139,0.63],[1.144,0.66],[1.149,0.69],[1.154,0.66],[1.158,0.67],[1.162,0.70],[1.165,0.68],[1.170,0.63],[1.175,0.59],[1.180,0.62],[1.185,0.65],[1.190,0.62],[1.195,0.63],[1.201,0.60],[1.206,0.66],[1.211,0.72],[1.216,0.78],[1.221,0.82],[1.228,0.875],[1.234,0.84],[1.239,0.80],[1.244,0.77],[1.249,0.82],[1.254,0.87],[1.258,0.93],[1.261,0.98],[1.267,1.00],[1.274,1.01],[1.280,1.04],[1.287,0.97],[1.292,1.00],[1.297,1.01],[1.302,0.98],[1.307,0.99],[1.312,1.01],[1.317,1.02],[1.320,1.00],[1.323,1.03],[1.327,0.97],[1.330,0.91],[1.333,0.80],[1.337,0.645],[1.341,0.62],[1.346,0.64],[1.348,null],[1.426,0.645],[1.431,0.66],[1.436,0.68],[1.442,0.69],[1.447,0.66],[1.452,0.62],[1.455,0.64],[1.459,0.66],[1.464,0.70],[1.468,0.72],[1.473,0.70],[1.478,0.69],[1.485,0.72],[1.492,0.75],[1.498,0.76],[1.505,0.77],[1.511,0.79],[1.518,0.81],[1.524,0.82],[1.531,0.84],[1.538,0.86],[1.544,0.875],[1.551,0.89],[1.558,0.90],[1.564,0.92],[1.571,0.93],[1.577,0.94],[1.584,0.95],[1.590,0.96],[1.597,0.98],[1.603,1.00],[1.610,1.02],[1.616,1.05],[1.624,1.06],[1.629,1.07],[1.636,1.06],[1.642,1.05],[1.649,1.09],[1.654,1.12],[1.658,1.16],[1.663,1.17],[1.668,1.18],[1.673,1.17],[1.678,1.19],[1.682,1.16],[1.685,1.14],[1.690,1.15],[1.695,1.16],[1.700,1.14],[1.705,1.12],[1.710,1.09],[1.715,1.07],[1.720,1.04],[1.724,1.02],[1.729,1.01],[1.734,1.00],[1.739,0.99],[1.744,1.00],[1.749,0.98],[1.754,0.96],[1.758,0.93],[1.761,0.915],[1.764,0.93],[1.767,0.945],[1.771,0.90],[1.774,0.875],[1.778,0.83],[1.780,0.80],[1.784,0.81],[1.787,0.82],[1.791,0.80],[1.794,0.81],[1.796,null],[1.949,0.74],[1.953,0.73],[1.958,0.72],[1.963,0.74],[1.968,0.71],[1.973,0.73],[1.978,0.74],[1.984,0.72],[1.991,0.71],[1.996,0.74],[2.001,0.73],[2.008,0.71],[2.015,0.72],[2.021,0.70],[2.028,0.70],[2.034,0.72],[2.041,0.71],[2.047,0.73],[2.054,0.75],[2.060,0.73],[2.067,0.74],[2.074,0.76],[2.080,0.77],[2.085,0.79],[2.090,0.81],[2.097,0.82],[2.103,0.83],[2.110,0.85],[2.117,0.86],[2.123,0.87],[2.130,0.885],[2.137,0.88],[2.143,0.885],[2.150,0.89],[2.156,0.895],[2.161,0.91],[2.166,0.935],[2.171,0.93],[2.176,0.925],[2.182,0.915],[2.189,0.905],[2.195,0.90],[2.202,0.895],[2.209,0.905],[2.216,0.915],[2.222,0.91],[2.229,0.905],[2.236,0.90],[2.242,0.895],[2.249,0.89],[2.255,0.885],[2.262,0.88],[2.268,0.875],[2.275,0.88],[2.281,0.885],[2.287,0.895],[2.291,0.84],[2.295,0.78],[2.301,0.75],[2.306,0.77],[2.311,0.79],[2.316,0.78],[2.321,0.77],[2.328,0.76],[2.334,0.76],[2.340,0.77],[2.347,0.75],[2.352,0.74],[2.357,0.72],[2.362,0.74],[2.367,0.75],[2.372,0.77],[2.377,0.78],[2.382,0.76],[2.387,0.73],[2.392,0.75],[2.397,0.77],[2.403,0.74],[2.410,0.71],[2.415,0.68],[2.420,0.65],[2.425,0.70],[2.430,0.74],[2.436,0.77],[2.443,0.80],[2.447,0.78],[2.450,0.77],[2.455,0.70],[2.459,0.65],[2.462,0.72],[2.466,0.78]];

const targetSpectra = {"W0044+0228": w0044, "W0200-5105": w0200, "W0226-1610": w0226,
                       "W0902+6708": w0902, "W2049-7456": w2049, "W2354-0811": w2354};

// ---------------- DRAWING ----------------
const svg = d3.select("#c");
const FONT = "DejaVu Serif";
const plotTop = 44, plotBottom = 1393;
const panelsX = [[135, 1045], [1227, 2138]];

panelsX.forEach((px, pi) => {
  const x = d3.scaleLinear().domain(xDomain).range(px);
  const y = d3.scaleLinear().domain(yDomain).range([plotBottom, plotTop]);
  const g = svg.append("g");

  const clipId = "clip" + pi;
  svg.append("defs").append("clipPath").attr("id", clipId)
    .append("rect").attr("x", px[0]).attr("y", plotTop)
    .attr("width", px[1] - px[0]).attr("height", plotBottom - plotTop);

  const line = d3.line().defined(d => d[1] !== null).x(d => x(d[0])).y(d => y(d[1]));
  const lines = g.append("g").attr("clip-path", `url(#${clipId})`)
    .attr("fill", "none").attr("stroke-width", 2).attr("stroke-linejoin", "round");

  offsets.forEach((off, k) => {
    lines.append("path").attr("d", line(vlg.map(d => [d[0], d[1] + off]))).attr("stroke", "#ff0000");
    lines.append("path").attr("d", line(intg.map(d => [d[0], d[1] + off]))).attr("stroke", "#0000ff");
    lines.append("path").attr("d", line(targetSpectra[panelNames[pi][k]])).attr("stroke", "#000000");
    g.append("text").attr("x", x(1.9)).attr("y", y(off + 1.325))
      .attr("font-family", FONT).attr("font-size", 25).attr("fill", "#000")
      .text(panelNames[pi][k]);
  });

  // legend texts
  g.append("text").attr("x", x(0.902)).attr("y", y(3.327)).attr("font-family", FONT)
    .attr("font-size", 25).attr("fill", "#ff0000").text(vlgLabel);
  g.append("text").attr("x", x(0.902)).attr("y", y(3.245)).attr("font-family", FONT)
    .attr("font-size", 25).attr("fill", "#0000ff").text(intgLabel);

  // axes (ticks pointing inward on all four sides)
  const fmt = d3.format(".1f");
  const ax = [
    g.append("g").attr("transform", `translate(0,${plotBottom})`)
      .call(d3.axisBottom(x).tickValues(xTicks).tickFormat(fmt).tickSizeInner(-8).tickSizeOuter(0).tickPadding(12)),
    g.append("g").attr("transform", `translate(0,${plotTop})`)
      .call(d3.axisTop(x).tickValues(xTicks).tickFormat("").tickSizeInner(-8).tickSizeOuter(0)),
    g.append("g").attr("transform", `translate(${px[0]},0)`)
      .call(d3.axisLeft(y).tickValues(yTicks).tickFormat(fmt).tickSizeInner(-8).tickSizeOuter(0).tickPadding(9)),
    g.append("g").attr("transform", `translate(${px[1]},0)`)
      .call(d3.axisRight(y).tickValues(yTicks).tickFormat("").tickSizeInner(-8).tickSizeOuter(0))
  ];
  ax.forEach(a => {
    a.select(".domain").remove();
    a.selectAll(".tick line").attr("stroke", "#000").attr("stroke-width", 1);
    a.selectAll("text").attr("font-family", FONT).attr("font-size", 24).attr("fill", "#000");
    a.attr("font-family", FONT);
  });

  // frame
  g.append("rect").attr("x", px[0]).attr("y", plotTop)
    .attr("width", px[1] - px[0]).attr("height", plotBottom - plotTop)
    .attr("fill", "none").attr("stroke", "#000").attr("stroke-width", 2);

  // x label
  const xl = g.append("text").attr("x", (px[0] + px[1]) / 2).attr("y", 1458)
    .attr("text-anchor", "middle").attr("font-family", FONT).attr("font-size", 27).attr("fill", "#000");
  xl.append("tspan").attr("font-style", "italic").text("λ");
  xl.append("tspan").text(" (");
  xl.append("tspan").attr("font-style", "italic").text("μm");
  xl.append("tspan").text(")");

  // y label
  const yl = g.append("g").attr("transform", `translate(${px[0] - 63},838) rotate(-90)`)
    .attr("font-family", FONT).attr("fill", "#000");
  yl.append("text").attr("x", 0).attr("y", 0).attr("font-size", 30).text("F");
  yl.append("text").attr("x", 21).attr("y", 6).attr("font-size", 20).text("λ");
  yl.append("text").attr("x", 55).attr("y", 0).attr("font-size", 30).text("+");
  yl.append("text").attr("x", 102).attr("y", 0).attr("font-size", 30).text("constant");
});
</script></body></html>
